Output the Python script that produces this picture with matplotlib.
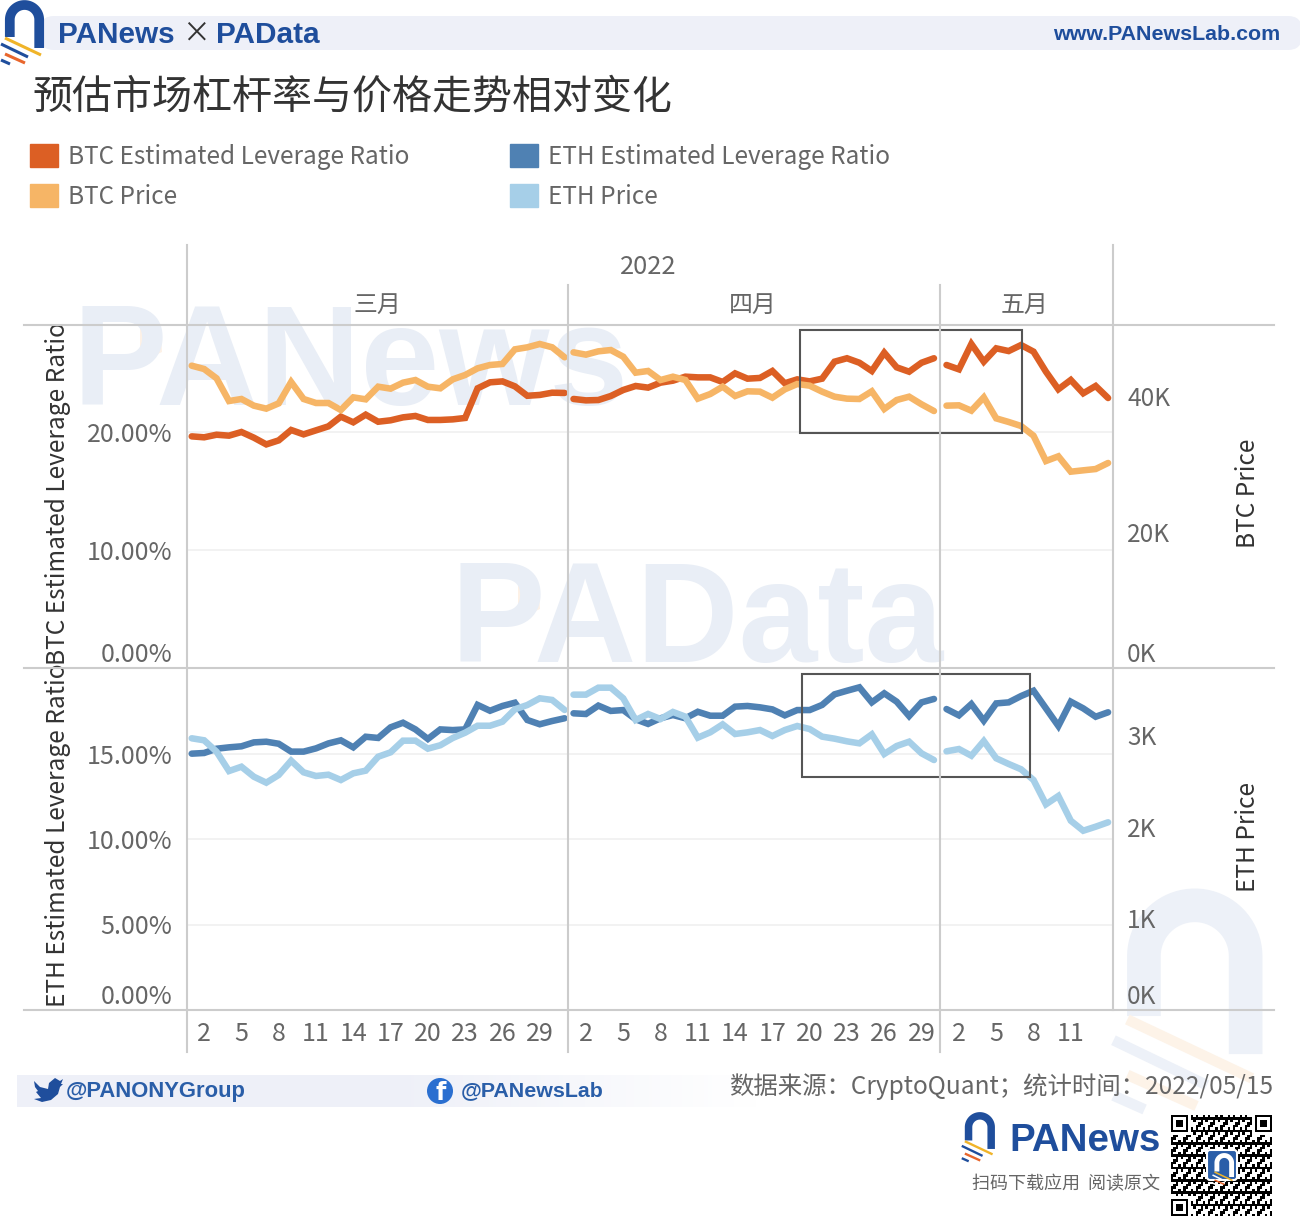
import matplotlib
matplotlib.use("Agg")
import matplotlib.pyplot as plt
import numpy as np
from matplotlib.patches import FancyBboxPatch, Rectangle, Circle, Polygon, Patch
from matplotlib.transforms import ScaledTranslation

plt.rcParams['font.family'] = ['Noto Sans CJK SC', 'DejaVu Sans']

# values, leverage in %, prices in thousands
days_mar = list(range(1, 32))
days_apr = list(range(1, 31))
days_may = list(range(1, 15))

btc_lev_mar = [19.63, 19.55, 19.77, 19.69, 20.00, 19.52, 18.95, 19.29, 20.17, 19.80, 20.14, 20.48, 21.30, 20.82, 21.47, 20.87,
               20.99, 21.24, 21.36, 21.02, 21.02, 21.07, 21.19, 23.70, 24.21, 24.29, 23.87, 23.07, 23.14, 23.33, 23.31]
btc_lev_apr = [22.80, 22.68, 22.71, 23.05, 23.56, 23.90, 23.76, 24.18, 24.35, 24.69, 24.63, 24.63, 24.24, 24.97, 24.52,
               24.58, 25.17, 24.13, 24.46, 24.29, 24.52, 25.96, 26.25, 25.87, 25.17, 26.72, 25.48, 25.11, 25.87, 26.25]
btc_lev_may = [25.68, 25.31, 27.46, 25.96, 27.09, 26.86, 27.37, 26.81, 25.11, 23.62, 24.41, 23.28, 23.90, 22.88]

btc_price_mar = [44.46, 43.97, 42.60, 39.26, 39.56, 38.58, 38.14, 38.92, 42.06, 39.56, 38.97, 38.97, 37.94, 39.80, 39.51, 41.37,
                 41.08, 41.96, 42.35, 41.37, 41.13, 42.45, 43.09, 44.07, 44.56, 44.71, 46.86, 47.16, 47.65, 47.16, 45.69]
btc_price_apr = [46.42, 46.08, 46.57, 46.76, 45.78, 43.43, 43.68, 42.35, 42.84, 42.35, 39.61, 40.29, 41.37, 40.00, 40.69,
                 40.64, 39.75, 40.98, 41.76, 41.52, 40.64, 39.90, 39.61, 39.56, 40.69, 38.09, 39.41, 39.90, 38.78, 37.79]
btc_price_may = [38.58, 38.63, 37.84, 39.80, 36.71, 36.18, 35.59, 34.16, 30.44, 31.13, 28.87, 29.07, 29.26, 30.15]

eth_lev_mar = [14.99, 15.03, 15.28, 15.36, 15.42, 15.65, 15.69, 15.57, 15.11, 15.11, 15.30, 15.59, 15.77, 15.36, 15.98, 15.91,
               16.53, 16.80, 16.41, 15.85, 16.41, 16.37, 16.41, 17.84, 17.50, 17.78, 17.97, 16.96, 16.71, 16.90, 17.06]
eth_lev_apr = [17.35, 17.31, 17.80, 17.49, 17.54, 17.00, 16.73, 17.06, 17.25, 17.06, 17.44, 17.21, 17.21, 17.74, 17.78,
               17.70, 17.58, 17.23, 17.54, 17.54, 17.84, 18.46, 18.67, 18.87, 17.99, 18.52, 18.03, 17.19, 17.99, 18.19]
eth_lev_may = [17.60, 17.23, 17.89, 16.92, 17.93, 17.99, 18.36, 18.67, 17.64, 16.61, 18.03, 17.64, 17.15, 17.41]

eth_price_mar = [2.963, 2.941, 2.817, 2.606, 2.653, 2.544, 2.479, 2.563, 2.719, 2.592, 2.552, 2.566, 2.508, 2.581, 2.610, 2.762,
                 2.810, 2.937, 2.937, 2.850, 2.887, 2.966, 3.024, 3.100, 3.100, 3.144, 3.279, 3.326, 3.399, 3.381, 3.272]
eth_price_apr = [3.439, 3.439, 3.515, 3.515, 3.399, 3.162, 3.228, 3.173, 3.250, 3.199, 2.970, 3.028, 3.115, 3.010, 3.028,
                 3.053, 2.988, 3.053, 3.097, 3.064, 2.981, 2.959, 2.930, 2.908, 3.006, 2.792, 2.879, 2.926, 2.799, 2.726]
eth_price_may = [2.821, 2.846, 2.773, 2.933, 2.745, 2.683, 2.625, 2.508, 2.243, 2.334, 2.064, 1.955, 1.999, 2.047]

months = ['三月', '四月', '五月']
x_ticks = [list(range(2, 30, 3)), list(range(2, 30, 3)), [2, 5, 8, 11]]
btc_lev_ticks = [0, 10, 20]
btc_lev_labels = ['0.00%', '10.00%', '20.00%']
btc_price_ticks = [0, 20, 40]
btc_price_labels = ['0K', '20K', '40K']
eth_lev_ticks = [0, 5, 10, 15]
eth_lev_labels = ['0.00%', '5.00%', '10.00%', '15.00%']
eth_price_ticks = [0, 1, 2, 3]
eth_price_labels = ['0K', '1K', '2K', '3K']

BTC_LEV = '#dc5f24'
BTC_PRICE = '#f6b566'
ETH_LEV = '#4f81b3'
ETH_PRICE = '#a6cfe8'
GREY = '#666666'
RULE = '#cccccc'
NAVY = '#1f4e9c'
WASH = '#e9eef6'
TINT = '#fdf1e6'
BRAND = 'Liberation Sans'
W, H = 1300, 1220
PPD = 12.43  # pixels per day

fig = plt.figure(figsize=(W / 100, H / 100), dpi=100, facecolor='white')


def px_rect(x0, y0, x1, y1):
    return [x0 / W, 1 - y1 / H, (x1 - x0) / W, (y1 - y0) / H]


bg = fig.add_axes([0, 0, 1, 1], zorder=0)
top = fig.add_axes([0, 0, 1, 1], zorder=3)
for a in (bg, top):
    a.set_xlim(0, W)
    a.set_ylim(H, 0)
    a.axis('off')
    a.patch.set_alpha(0)


def draw_logo(ax, x0, y0, s, arch='#1f4e9c', c1='#f0b429', c2='#1f4e9c', c3='#e8662c', z=2):
    t = np.linspace(np.pi, 0, 40)
    xs = 24.5 + 14.7 * np.cos(t)
    ys = 19.7 - 14.7 * np.sin(t)
    xs = np.r_[9.8, xs, 39.2]
    ys = np.r_[37, ys, 48]
    ax.plot(x0 + xs * s, y0 + ys * s, color=arch, lw=7 * s, solid_capstyle='butt', zorder=z)
    stripes = [((5, 38), (41, 55), c1), ((1, 44), (28, 57), c2), ((5, 54), (25, 63), c3), ((1, 60), (10, 64), c2)]
    for p, q, c in stripes:
        ax.plot([x0 + p[0] * s, x0 + q[0] * s], [y0 + p[1] * s, y0 + q[1] * s], color=c, lw=2.2 * s,
                solid_capstyle='butt', zorder=z)


# watermarks
bg.text(72, 405, 'PANews', fontsize=102, fontweight='bold', color=WASH, family=BRAND, va='baseline')
bg.text(450, 662, 'PAData', fontsize=102, fontweight='bold', color=WASH, family=BRAND, va='baseline')
bg.add_patch(Polygon([(140, 322), (160, 325), (162, 352), (140, 362)], fc=TINT, ec='none', zorder=1))
bg.add_patch(Polygon([(227, 372), (240, 372), (254, 405), (237, 405)], fc=TINT, ec='none', zorder=1))
bg.add_patch(Polygon([(518, 579), (538, 582), (540, 609), (518, 619)], fc=TINT, ec='none', zorder=1))
bg.add_patch(Polygon([(605, 629), (618, 629), (632, 662), (615, 662)], fc=TINT, ec='none', zorder=1))
draw_logo(bg, 1110, 888, 3.46, arch='#edf1f8', c1='#fdf3e8', c2='#edf1f8', c3='#fdf3e8')

# header band
bg.add_patch(FancyBboxPatch((40, 16), 1262, 34, boxstyle='round,pad=0,rounding_size=14', fc='#eef0f8', ec='none'))
draw_logo(bg, 0, 0, 1)
bg.text(58, 35, 'PANews', fontsize=21.4, fontweight='bold', color=NAVY, family=BRAND, va='center')
bg.text(196, 34, '×', fontsize=20, color='#333333', ha='center', va='center')
bg.text(216, 35, 'PAData', fontsize=21.4, fontweight='bold', color=NAVY, family=BRAND, va='center')
bg.text(1280, 35, 'www.PANewsLab.com', fontsize=15.4, fontweight='bold', color=NAVY, family=BRAND, ha='right', va='center')

bg.text(32, 97, '预估市场杠杆率与价格走势相对变化', fontsize=28.8, color='#333333', va='center')

# panel headers
bg.text(648, 267, '2022', fontsize=18.4, color=GREY, ha='center', va='center')
for name, cx in zip(months, [377, 753, 1025]):
    bg.text(cx, 305, name, fontsize=17.2, color=GREY, ha='center', va='center')

# small panels, three months side by side with their own x range
cols = [(187, 568, 4.7), (568, 940, 5.5), (940, 1112, 6.5)]
rows = [
    dict(y=(325, 668), ylim=(0, 343 / 11.8), ylim2=(0, 343 / 6.8), lev=[btc_lev_mar, btc_lev_apr, btc_lev_may],
         price=[btc_price_mar, btc_price_apr, btc_price_may], ct=btc_lev_ticks, cl=btc_lev_labels,
         pt=btc_price_ticks, pl=btc_price_labels, c1=BTC_LEV, c2=BTC_PRICE, ly=0.51, ry=0.51,
         lname='BTC Estimated Leverage Ratio', rname='BTC Price'),
    dict(y=(668, 1010), ylim=(0, 342 / 17.1), ylim2=(0, 342 / 91.7), lev=[eth_lev_mar, eth_lev_apr, eth_lev_may],
         price=[eth_price_mar, eth_price_apr, eth_price_may], ct=eth_lev_ticks, cl=eth_lev_labels,
         pt=eth_price_ticks, pl=eth_price_labels, c1=ETH_LEV, c2=ETH_PRICE, ly=0.512, ry=0.505,
         lname='ETH Estimated Leverage Ratio', rname='ETH Price'),
]
days = [days_mar, days_apr, days_may]
zero_shift = ScaledTranslation(0, 16 / 100, fig.dpi_scale_trans)

for r, row in enumerate(rows):
    for c, (x0, x1, lead) in enumerate(cols):
        ax = fig.add_axes(px_rect(x0, row['y'][0], x1, row['y'][1]), zorder=1)
        ax.patch.set_alpha(0)
        ax2 = ax.twinx()
        ax2.patch.set_alpha(0)
        left = 1 - lead / PPD
        ax.set_xlim(left, left + (x1 - x0) / PPD)
        ax.plot(days[c], row['lev'][c], color=row['c1'], lw=4.7, solid_joinstyle='miter', solid_capstyle='round')
        ax2.plot(days[c], row['price'][c], color=row['c2'], lw=4.7, solid_joinstyle='miter', solid_capstyle='round')
        ax.set_ylim(*row['ylim'])
        ax2.set_ylim(*row['ylim2'])
        ax.set_yticks(row['ct'])
        ax2.set_yticks(row['pt'])
        ax.grid(axis='y', color='#f0f0f0', lw=1.2)
        ax.set_axisbelow(True)
        ax.set_yticklabels(row['cl'] if c == 0 else [])
        ax2.set_yticklabels(row['pl'] if c == 2 else [])
        ax.tick_params(axis='y', length=0, pad=10.5, labelsize=18, labelcolor=GREY)
        ax2.tick_params(axis='y', length=0, pad=10.8, labelsize=17.6, labelcolor=GREY)
        if r == 1:
            ax.set_xticks(x_ticks[c])
            ax.set_xticklabels([str(d) for d in x_ticks[c]])
            ax.tick_params(axis='x', length=0, pad=8, labelsize=18, labelcolor=GREY)
        else:
            ax.set_xticks([])
        for s in list(ax.spines.values()) + list(ax2.spines.values()):
            s.set_visible(False)
        if c == 0:
            lab = ax.get_yticklabels()[0]
            lab.set_transform(lab.get_transform() + zero_shift)
            ax.set_ylabel(row['lname'], fontsize=17.6, color='#333333')
            ax.yaxis.set_label_coords((71 - 187) / (x1 - x0), row['ly'])
        if c == 2:
            lab = ax2.get_yticklabels()[0]
            lab.set_transform(lab.get_transform() + zero_shift)
            ax2.set_ylabel(row['rname'], fontsize=17.6, color='#333333')
            ax2.yaxis.set_label_coords((1235 - 940) / (x1 - x0), row['ry'])

# table rules
for y in (325, 668, 1010):
    top.plot([24, 1274], [y, y], color=RULE, lw=1.5)
top.plot([187, 187], [245, 1052], color=RULE, lw=1.5)
top.plot([1113, 1113], [245, 1010], color=RULE, lw=1.5)
top.plot([568, 568], [285, 1052], color=RULE, lw=1.5)
top.plot([940, 940], [285, 1052], color=RULE, lw=1.5)

# highlight boxes
top.add_patch(Rectangle((800, 330), 222, 103, fc='none', ec='#555555', lw=1.5))
top.add_patch(Rectangle((802, 674), 228, 103, fc='none', ec='#555555', lw=1.5))

# legend
handles = [Patch(color=BTC_LEV), Patch(color=BTC_PRICE), Patch(color=ETH_LEV), Patch(color=ETH_PRICE)]
labels = ['BTC Estimated Leverage Ratio', 'BTC Price', 'ETH Estimated Leverage Ratio', 'ETH Price']
leg = fig.legend(handles, labels, ncol=2, loc='upper left', bbox_to_anchor=(30 / W, 1 - 144 / H), frameon=False,
                 fontsize=17.5, handlelength=1.15, handleheight=1.1, handletextpad=0.42, columnspacing=4.12,
                 labelspacing=0.56, borderpad=0, borderaxespad=0, labelcolor=GREY)

# footer band
grad = np.ones((1, 200, 4))
grad[0, :, :3] = np.array([0xee, 0xf0, 0xf8]) / 255
grad[0, :, 3] = np.r_[np.ones(100), np.linspace(1, 0, 100)]
bg.imshow(grad, extent=(17, 760, 1107, 1075), aspect='auto', zorder=1)
bg.set_xlim(0, W)
bg.set_ylim(H, 0)

bird = [(34, 1081), (40, 1087), (48, 1089), (49, 1083), (55, 1078), (60, 1081), (63, 1079), (61, 1084), (63, 1084),
        (60, 1087), (58, 1094), (51, 1100), (42, 1102), (34, 1099), (41, 1098), (36, 1092), (38, 1091), (35, 1087)]
bg.add_patch(Polygon(bird, fc=NAVY, ec='none', zorder=2))
bg.text(66, 1091, '@PANONYGroup', fontsize=15.8, fontweight='bold', color='#2a5ea8', family=BRAND, va='center', zorder=2)
bg.add_patch(Circle((440, 1091), 13, fc='#2a6fd0', ec='none', zorder=2))
bg.text(441, 1093, 'f', fontsize=17, fontweight='bold', color='white', family='DejaVu Sans', ha='center', va='center', zorder=3)
bg.text(461, 1091, '@PANewsLab', fontsize=15.4, fontweight='bold', color='#2a5ea8', family=BRAND, va='center', zorder=2)

top.text(1273, 1087, '数据来源：CryptoQuant；统计时间：2022/05/15', fontsize=17.6, color=GREY, ha='right', va='center')

# lower right brand block
draw_logo(bg, 961, 1112, 0.77)
bg.text(1009, 1141, 'PANews', fontsize=27.7, fontweight='bold', color=NAVY, family=BRAND, va='center')
bg.text(1160, 1184, '扫码下载应用  阅读原文', fontsize=13, color=GREY, ha='right', va='center')

# qr-like block
n = 41
ii, jj = np.mgrid[0:n, 0:n]
qr = ((ii * ii + 7 * jj + ii * jj * 3) % 5 < 2).astype(float)
for fi, fj in [(0, 0), (0, n - 7), (n - 7, 0)]:
    qr[max(fi - 1, 0):fi + 8, max(fj - 1, 0):fj + 8] = 0
    qr[fi:fi + 7, fj:fj + 7] = 1
    qr[fi + 1:fi + 6, fj + 1:fj + 6] = 0
    qr[fi + 2:fi + 5, fj + 2:fj + 5] = 1
bg.imshow(1 - qr, cmap='gray', vmin=0, vmax=1, extent=(1171, 1272, 1216, 1115), aspect='auto', interpolation='nearest', zorder=2)
bg.set_xlim(0, W)
bg.set_ylim(H, 0)
bg.add_patch(FancyBboxPatch((1207, 1150), 30, 30, boxstyle='round,pad=0,rounding_size=3', fc='#2a5ea8', ec='white', lw=1.5, zorder=3))
draw_logo(bg, 1212, 1153, 0.5, arch='white', c1='#f0b429', c2='white', c3='#e8662c', z=4)

fig.savefig('out.png', dpi=100)
